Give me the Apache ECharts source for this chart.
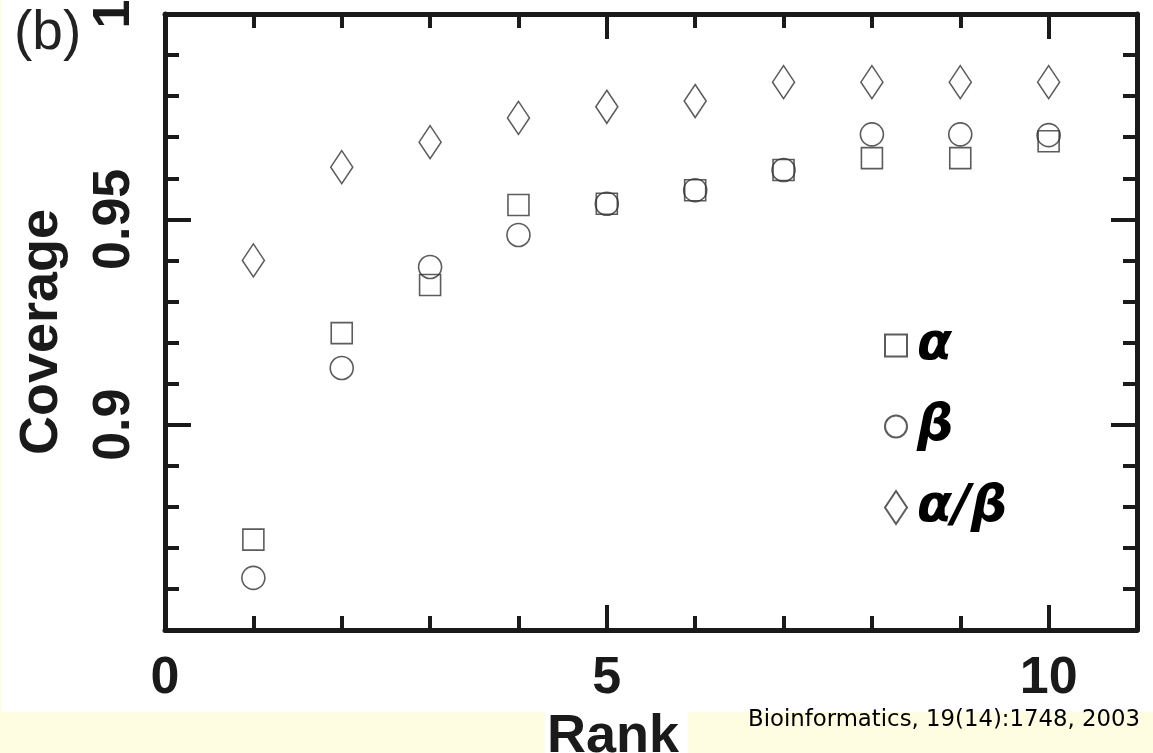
<!DOCTYPE html>
<html><head><meta charset="utf-8">
<script src="https://cdn.jsdelivr.net/npm/echarts@6/dist/echarts.min.js"></script>
<style>html,body{margin:0;padding:0;background:#fff}#c{width:1153px;height:753px}</style>
</head><body><div id="c"></div>
<script>
const ranks = [1, 2, 3, 4, 5, 6, 7, 8, 9, 10];
const alpha = [0.872, 0.9223, 0.934, 0.9535, 0.9538, 0.9571, 0.962, 0.9649, 0.9649, 0.969];
const beta = [0.8627, 0.9138, 0.9384, 0.9462, 0.9538, 0.9571, 0.962, 0.9707, 0.9707, 0.9705];
const alphaBeta = [0.940, 0.9627, 0.9688, 0.9747, 0.9774, 0.9788, 0.9834, 0.9834, 0.9834, 0.9834];
const xTickLabels = ['0', '5', '10'];
const yTickLabels = ['0.9', '0.95', '1'];
const seriesNames = ['α', 'β', 'α/β'];
const xName = 'Rank';
const yName = 'Coverage';
const panelLabel = '(b)';
const citation = 'Bioinformatics, 19(14):1748, 2003';

const AX = '#1a1a1a';
const MK = '#333333';
const YEL = '#FFFDE1';
const BIG = { fontFamily: '"Liberation Sans", Arial, sans-serif', fontWeight: 'bold', fontSize: 52, color: AX };

function xAx(pos, interval, len, showLine, labels, name) {
  return {
    type: 'value', position: pos, min: 0, max: 11, interval: interval, offset: 0,
    axisLine: { show: showLine, onZero: false, lineStyle: { color: AX, width: 5 } },
    axisTick: { show: true, inside: true, length: len, lineStyle: { color: AX, width: 4 } },
    axisLabel: labels ? Object.assign({ show: true, margin: 23, formatter: v => xTickLabels.includes(String(v)) ? String(v) : '' }, BIG) : { show: false },
    splitLine: { show: false },
    name: name || '', nameLocation: 'middle', nameGap: 72,
    nameTextStyle: Object.assign({}, BIG, { fontSize: 54, padding: [0, 76, 0, 0] })
  };
}
function yAx(pos, interval, len, showLine, labels, name) {
  return {
    type: 'value', position: pos, min: 0.85, max: 1, interval: interval, offset: 0,
    axisLine: { show: showLine, onZero: false, lineStyle: { color: AX, width: 5 } },
    axisTick: { show: true, inside: true, length: len, lineStyle: { color: AX, width: 4 } },
    axisLabel: labels ? Object.assign({ show: true, rotate: 90, margin: 24,
      formatter: v => { const s = String(+(+v).toFixed(2)); return yTickLabels.includes(s) ? s : ''; } }, BIG) : { show: false },
    splitLine: { show: false },
    name: name || '', nameLocation: 'middle', nameGap: 96, nameRotate: 90,
    nameTextStyle: Object.assign({}, BIG, { fontSize: 54, padding: [0, 20, 0, 0] })
  };
}

const chart = echarts.init(document.getElementById('c'), null, { renderer: 'canvas' });
const itemStyle = { color: 'rgba(0,0,0,0)', borderColor: MK, borderWidth: 1.6 };
chart.setOption({
  backgroundColor: '#fff',
  animation: false,
  grid: { left: 165, right: 16, top: 14, bottom: 123, containLabel: false, outerBoundsMode: 'none' },
  xAxis: [
    xAx('bottom', 1, 14, true, false),
    xAx('bottom', 5, 25, false, true, xName),
    xAx('top', 1, 14, true, false),
    xAx('top', 5, 25, false, false)
  ],
  yAxis: [
    yAx('left', 0.01, 14, true, false),
    yAx('left', 0.05, 26, false, true, yName),
    yAx('right', 0.01, 14, true, false),
    yAx('right', 0.05, 26, false, false)
  ],
  legend: {
    orient: 'vertical', left: 879, top: 315, itemWidth: 22, itemHeight: 33, itemGap: 30,
    data: seriesNames,
    textStyle: { fontFamily: '"DejaVu Sans", sans-serif', fontWeight: 'bold', fontStyle: 'italic', fontSize: 51, color: '#000', padding: [0, 0, 0, 5] }
  },
  series: [
    { name: seriesNames[0], type: 'scatter', xAxisIndex: 0, yAxisIndex: 0, symbol: 'path://M0,0 L10,0 L10,10 L0,10 Z', symbolKeepAspect: true, symbolSize: [21, 21], itemStyle: itemStyle, data: ranks.map((r, i) => [r, alpha[i]]) },
    { name: seriesNames[1], type: 'scatter', xAxisIndex: 0, yAxisIndex: 0, symbol: 'circle', symbolKeepAspect: true, symbolSize: 23, itemStyle: itemStyle, data: ranks.map((r, i) => [r, beta[i]]) },
    { name: seriesNames[2], type: 'scatter', xAxisIndex: 0, yAxisIndex: 0, symbol: 'path://M11,0 L22,16.5 L11,33 L0,16.5 Z', symbolSize: [22, 33], itemStyle: itemStyle, data: ranks.map((r, i) => [r, alphaBeta[i]]) }
  ],
  graphic: [
    { type: 'rect', z: -10, silent: true, shape: { x: 0, y: 712, width: 545, height: 41 }, style: { fill: YEL } },
    { type: 'rect', z: -10, silent: true, shape: { x: 688, y: 712, width: 465, height: 41 }, style: { fill: YEL } },
    { type: 'rect', z: -10, silent: true, shape: { x: 0, y: 0, width: 1.5, height: 712 }, style: { fill: YEL } },
    { type: 'text', left: 14, top: 6, style: { text: panelLabel, font: 'normal 55px "Liberation Sans", Arial, sans-serif', fill: '#222' } },
    { type: 'text', left: 748, top: 709, style: { text: citation, font: 'normal 22.8px "DejaVu Sans", sans-serif', fill: '#000' } }
  ]
});
</script></body></html>
